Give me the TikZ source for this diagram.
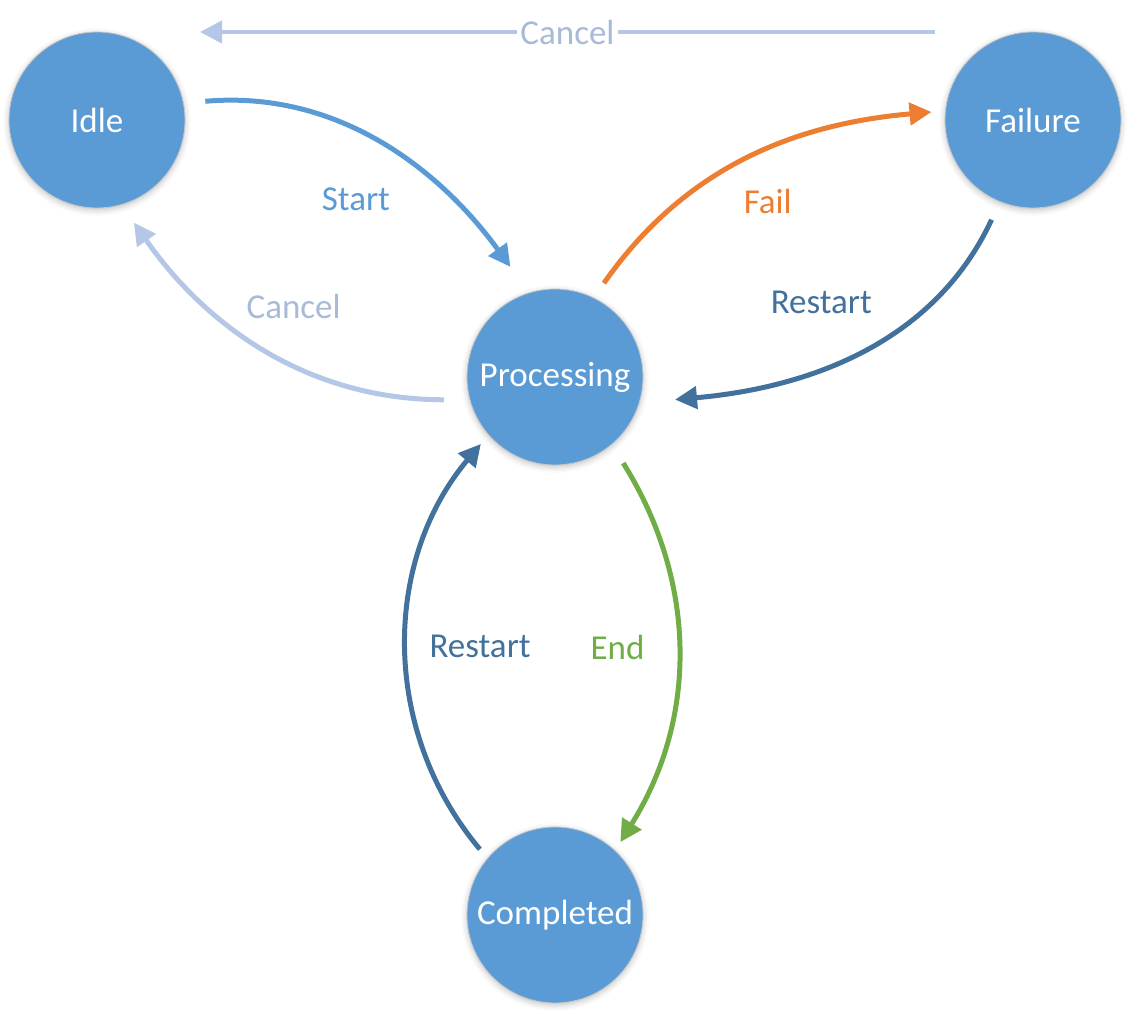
\documentclass[tikz,border=0pt]{standalone}
\usepackage{fontspec}
\setmainfont{Carlito}
\usetikzlibrary{arrows.meta,shadows.blur}

\definecolor{statefill}{HTML}{5B9BD5}
\definecolor{startcol}{HTML}{5B9BD5}
\definecolor{restartcol}{HTML}{41719C}
\definecolor{failcol}{HTML}{ED7D31}
\definecolor{endcol}{HTML}{70AD47}
\definecolor{cancelcol}{HTML}{B4C7E7}
\definecolor{canceltext}{HTML}{A9BAD8}

\begin{document}
\begin{tikzpicture}[x=0.5pt,y=-0.5pt]
  \useasboundingbox (0,0) rectangle (1132,1020);
  \begin{scope}[
    every node/.style={
      circle,
      draw=gray!45,
      line width=0.4pt,
      fill=statefill,
      minimum size=88pt,
      inner sep=0pt,
      outer sep=0pt,
      text=white,
      font=\fontsize{17.5}{21}\selectfont,
      blur shadow={shadow xshift=0pt,shadow yshift=-1pt,shadow blur radius=3pt,shadow opacity=25},
    },
    ]
    \node (idle)      at (97,120)  {Idle};
    \node (failure)   at (1033,120) {Failure};
    \node (proc)      at (555,377) {Processing};
    \node (completed) at (555,915) {Completed};
  \end{scope}
  \begin{scope}[
    every node/.style={font=\fontsize{17.5}{21}\selectfont},
    every edge/.style={draw,line width=2.5pt,-{Triangle[length=11pt,width=11pt]}},
    ]
    \path
    (idle.11)       edge[startcol, out=5, in=126, shorten <=11pt, shorten >=16pt]
                    node[text=startcol, shift={(-24,53)}] {Start} (proc.107)
    (proc.64)       edge[failcol, out=55, in=185, shorten <=9pt, shorten >=7pt]
                    node[text=failcol, shift={(23,40)}] {Fail} (failure.174)
    (failure.248)   edge[restartcol, out=245, in=5, shorten <=10pt, shorten >=18pt]
                    node[text=restartcol, shift={(-33,-49)}] {Restart} (proc.-17)
    (proc.195)      edge[cancelcol, out=180, in=-55, shorten <=13pt, shorten >=11pt]
                    node[text=canceltext, shift={(23,-44)}] {Cancel} (idle.-74)
    (completed.140) edge[restartcol, out=130, in=-130, shorten <=6pt, shorten >=6pt]
                    node[text=restartcol, shift={(72,0)}] {Restart} (proc.-139)
    (proc.-50)      edge[endcol, out=-58, in=58, shorten <=11pt, shorten >=5pt]
                    node[text=endcol, shift={(-59,0)}] {End} (completed.47);
    \draw[cancelcol, line width=2.2pt, -{Triangle[length=11pt,width=11pt]}]
    ([xshift=-5pt]failure.west |- failure.north) -- node[fill=white, text=canceltext, inner sep=1.5pt] {Cancel}
    ([xshift=7.5pt]idle.east |- idle.north);
  \end{scope}
\end{tikzpicture}
\end{document}
